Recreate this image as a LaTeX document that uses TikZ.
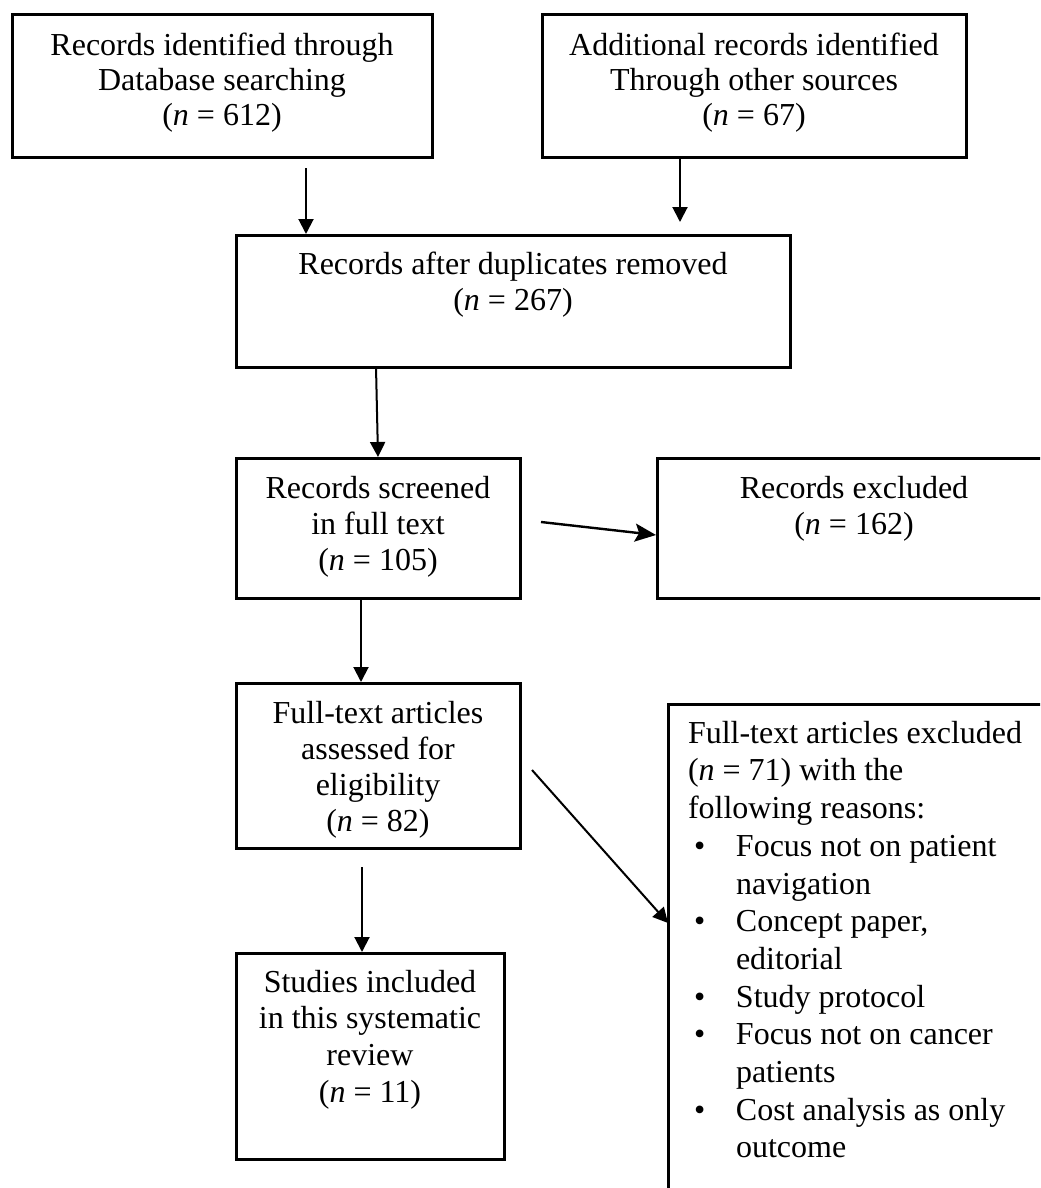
\documentclass[tikz,border=0pt]{standalone}
\usepackage{fontspec}
\setmainfont{Liberation Serif}
\usetikzlibrary{arrows.meta,fit,calc}
\newcommand{\bul}{\hspace*{3pt}\makebox[21pt][l]{\textbullet}}
\begin{document}
\begin{tikzpicture}[x=0.5pt,y=-0.5pt,
  box/.style={draw, line width=1.5pt, inner sep=0pt, outer sep=0pt},
  txt/.style={inner sep=0pt, outer sep=0pt, align=center, anchor=north, font=\fontsize{16pt}{18pt}\selectfont},
  arr/.style={line width=1pt, -{Triangle[length=7.5pt,width=7.5pt]}},
  arrb/.style={line width=1.2pt, -{Stealth[length=10.5pt,width=9pt,inset=2pt]}}]
\path[use as bounding box] (0,0) rectangle (1040,1188);
\fill[white] (0,0) rectangle (1040,1188);
\clip (0,0) rectangle (1040,1188);

% boxes
\node[box, fit={(12,15) (432,157)}] (b1) {};
\node[box, fit={(542,15) (966,157)}] (b2) {};
\node[box, fit={(236,235) (790,367)}] (b3) {};
\node[box, fit={(236,458) (520,598)}] (b4) {};
\node[box, fit={(657,458) (1051,598)}] (b5) {};
\node[box, fit={(236,683) (520,848)}] (b6) {};
\node[box, fit={(668,704) (1060,1220)}] (b7) {};
\node[box, fit={(236,953) (504,1159)}] (b8) {};

% texts
\node[txt, font=\fontsize{16pt}{17.5pt}\selectfont] (t1) at ($(b1.north)+(0,18)$)
  {Records identified through\\Database searching\\(\textit{n} = 612)};
\node[txt, font=\fontsize{16pt}{17.5pt}\selectfont] (t2) at ($(b2.north)+(0,18)$)
  {Additional records identified\\Through other sources\\(\textit{n} = 67)};
\node[txt] (t3) at ($(b3.north)+(0,17)$)
  {Records after duplicates removed\\(\textit{n} = 267)};
\node[txt] (t4) at ($(b4.north)+(0,18)$)
  {Records screened\\in full text\\(\textit{n} = 105)};
\node[txt] (t5) at ($(b5.north)+(0,18)$)
  {Records excluded\\(\textit{n} = 162)};
\node[txt] (t6) at ($(b6.north)+(0,18)$)
  {Full-text articles\\assessed for\\eligibility\\(\textit{n} = 82)};
\node[txt, align=left, anchor=north west, font=\fontsize{16pt}{18.85pt}\selectfont] (t7) at ($(b7.north west)+(20,17)$)
  {Full-text articles excluded\\
   (\textit{n} = 71) with the\\
   following reasons:\\
   \bul Focus not on patient\\
   \hspace*{24pt}navigation\\
   \bul Concept paper,\\
   \hspace*{24pt}editorial\\
   \bul Study protocol\\
   \bul Focus not on cancer\\
   \hspace*{24pt}patients\\
   \bul Cost analysis as only\\
   \hspace*{24pt}outcome};
\node[txt, font=\fontsize{16pt}{18.3pt}\selectfont] (t8) at ($(b8.north)+(0,17)$)
  {Studies included\\in this systematic\\review\\(\textit{n} = 11)};

% connectors
\draw[arr] ($(b1.south west)+(294,11)$) -- ($(b3.north west)+(70,-1)$);
\draw[arr] ($(b2.south west)+(138,0)$) -- ($(b2.south west)+(138,65)$);
\draw[arr] ($(b3.south west)+(140,0)$) -- ($(b4.north west)+(142,-1)$);
\draw[arrb] ($(b4.north east)+(21,64)$) -- ($(b5.north west)+(-1,77)$);
\draw[arr] ($(b4.south west)+(125,0)$) -- ($(b6.north west)+(125,-1)$);
\draw[arr] ($(b6.north east)+(12,87)$) -- ($(b7.north west)+(0,219)$);
\draw[arr] ($(b6.south west)+(126,19)$) -- ($(b8.north west)+(126,-1)$);
\end{tikzpicture}
\end{document}
